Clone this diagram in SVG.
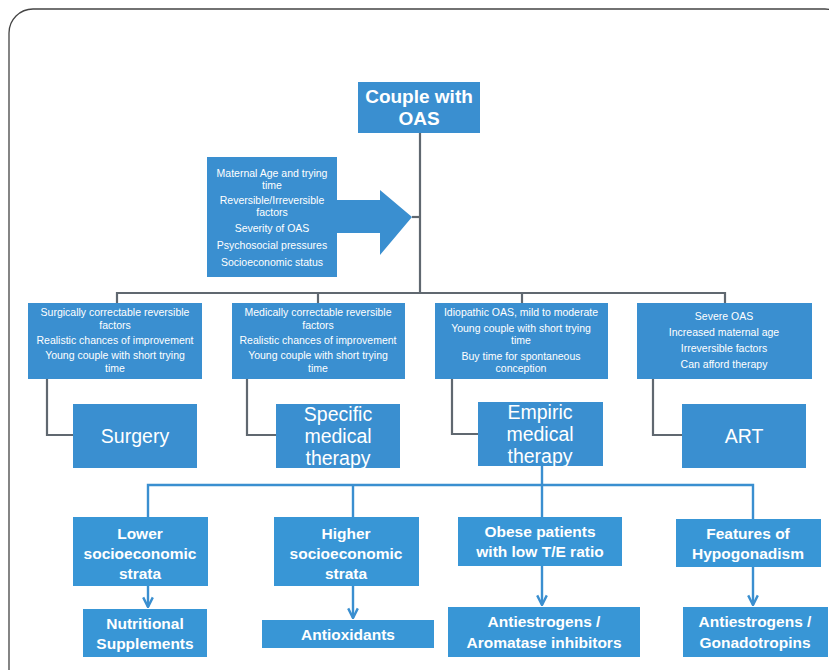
<svg xmlns="http://www.w3.org/2000/svg" width="829" height="670" viewBox="0 0 829 670">
<defs>
<style>
.box{fill:#3a8fd0;}
.box2{fill:#3896d6;}
.t{font-family:"Liberation Sans","Open Sans",Arial,sans-serif;fill:#fff;text-anchor:middle;}
.s{font-size:10.5px;}
.m{font-size:19.5px;}
.b{font-size:15.5px;font-weight:700;}
.g{fill:none;stroke:#606870;stroke-width:2.2;}
.bl{fill:none;stroke:#3a8fd0;stroke-width:2.4;}
</style>
<marker id="ah" viewBox="0 0 10 10" refX="9" refY="5" markerWidth="5" markerHeight="5" orient="auto" markerUnits="strokeWidth">
<path d="M1,1 L9,5 L1,9" fill="none" stroke="#3a8fd0" stroke-width="2"/>
</marker>
</defs>
<rect x="0" y="0" width="829" height="670" fill="#fff"/>
<rect x="9" y="9" width="840" height="690" rx="24" fill="none" stroke="#444" stroke-width="1.3"/>

<g id="connectors">
<path class="g" d="M420,133 V293"/>
<path class="g" d="M412,217 H420"/>
<path class="g" d="M117,303 V293 H725 V303"/>
<path class="g" d="M318,293 V303"/>
<path class="g" d="M522,293 V303"/>
<path class="g" d="M47,379 V435 H73"/>
<path class="g" d="M247,379 V435 H276"/>
<path class="g" d="M452,379 V434 H478"/>
<path class="g" d="M653,379 V435 H682"/>
<path class="bl" d="M148,517 V485 H753 V519"/>
<path class="bl" d="M353,485 V517"/>
<path class="bl" d="M542,466 V517"/>
<path class="bl" d="M148,586 V607" marker-end="url(#ah)"/>
<path class="bl" d="M353,586 V618" marker-end="url(#ah)"/>
<path class="bl" d="M542,566 V605" marker-end="url(#ah)"/>
<path class="bl" d="M753,567 V605" marker-end="url(#ah)"/>
</g>

<g id="couple">
<rect class="box" x="358" y="82" width="122" height="51"/>
<text class="t" x="419" y="103" font-size="19" font-weight="700">Couple with</text>
<text class="t" x="419" y="125" font-size="19" font-weight="700">OAS</text>
</g>

<g id="factors">
<rect class="box" x="207" y="157" width="130" height="120"/>
<path class="box" d="M336,200 H380 V190 L412,217 L380,255 V233 H336 Z"/>
<text class="t s" x="272" y="177">Maternal Age  and trying</text>
<text class="t s" x="272" y="189">time</text>
<text class="t s" x="272" y="204">Reversible/Irreversible</text>
<text class="t s" x="272" y="216">factors</text>
<text class="t s" x="272" y="232">Severity of OAS</text>
<text class="t s" x="272" y="249">Psychosocial pressures</text>
<text class="t s" x="272" y="266">Socioeconomic status</text>
</g>

<g id="c1">
<rect class="box" x="28" y="303" width="174" height="76"/>
<text class="t s" x="115" y="316">Surgically correctable reversible</text>
<text class="t s" x="115" y="329">factors</text>
<text class="t s" x="115" y="344">Realistic chances of improvement</text>
<text class="t s" x="115" y="359">Young couple with short trying</text>
<text class="t s" x="115" y="372">time</text>
</g>
<g id="c2">
<rect class="box" x="232" y="303" width="173" height="76"/>
<text class="t s" x="318" y="316">Medically correctable reversible</text>
<text class="t s" x="318" y="329">factors</text>
<text class="t s" x="318" y="344">Realistic chances of improvement</text>
<text class="t s" x="318" y="359">Young couple with short trying</text>
<text class="t s" x="318" y="372">time</text>
</g>
<g id="c3">
<rect class="box" x="435" y="303" width="173" height="76"/>
<text class="t s" x="521" y="316">Idiopathic OAS, mild to moderate</text>
<text class="t s" x="521" y="332">Young couple with short trying</text>
<text class="t s" x="521" y="344">time</text>
<text class="t s" x="521" y="360">Buy time for spontaneous</text>
<text class="t s" x="521" y="372">conception</text>
</g>
<g id="c4">
<rect class="box" x="637" y="303" width="175" height="76"/>
<text class="t s" x="724" y="320">Severe OAS</text>
<text class="t s" x="724" y="336">Increased maternal age</text>
<text class="t s" x="724" y="352">Irreversible factors</text>
<text class="t s" x="724" y="368">Can afford therapy</text>
</g>

<g id="surgery">
<rect class="box" x="73" y="404" width="124" height="64"/>
<text class="t m" x="135" y="443">Surgery</text>
</g>
<g id="specific">
<rect class="box" x="276" y="404" width="124" height="64"/>
<text class="t m" x="338" y="421">Specific</text>
<text class="t m" x="338" y="443">medical</text>
<text class="t m" x="338" y="465">therapy</text>
</g>
<g id="empiric">
<rect class="box" x="478" y="402" width="125" height="64"/>
<text class="t m" x="540" y="419">Empiric</text>
<text class="t m" x="540" y="441">medical</text>
<text class="t m" x="540" y="463">therapy</text>
</g>
<g id="art">
<rect class="box" x="682" y="404" width="124" height="64"/>
<text class="t m" x="744" y="443">ART</text>
</g>

<g id="lower">
<rect class="box2" x="73" y="517" width="135" height="69"/>
<text class="t b" x="140" y="539">Lower</text>
<text class="t b" x="140" y="559">socioeconomic</text>
<text class="t b" x="140" y="579">strata</text>
</g>
<g id="higher">
<rect class="box2" x="274" y="517" width="145" height="69"/>
<text class="t b" x="346" y="539">Higher</text>
<text class="t b" x="346" y="559">socioeconomic</text>
<text class="t b" x="346" y="579">strata</text>
</g>
<g id="obese">
<rect class="box2" x="458" y="517" width="164" height="49"/>
<text class="t b" x="540" y="537">Obese patients</text>
<text class="t b" x="540" y="557">with low T/E ratio</text>
</g>
<g id="hypo">
<rect class="box2" x="676" y="519" width="145" height="48"/>
<text class="t b" x="748" y="539">Features of</text>
<text class="t b" x="748" y="559">Hypogonadism</text>
</g>

<g id="nutri">
<rect class="box2" x="83" y="609" width="124" height="48"/>
<text class="t b" x="145" y="629">Nutritional</text>
<text class="t b" x="145" y="649">Supplements</text>
</g>
<g id="antiox">
<rect class="box2" x="262" y="620" width="172" height="28"/>
<text class="t b" x="348" y="640">Antioxidants</text>
</g>
<g id="aroma">
<rect class="box2" x="448" y="607" width="192" height="50"/>
<text class="t b" x="544" y="627">Antiestrogens /</text>
<text class="t b" x="544" y="648">Aromatase inhibitors</text>
</g>
<g id="gonado">
<rect class="box2" x="683" y="607" width="145" height="50"/>
<text class="t b" x="755" y="627">Antiestrogens /</text>
<text class="t b" x="755" y="648">Gonadotropins</text>
</g>
</svg>
